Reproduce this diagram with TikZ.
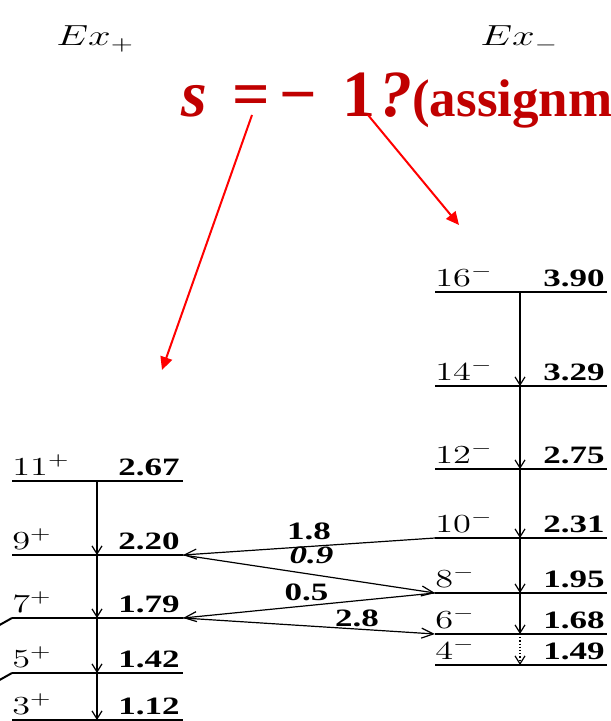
\RequirePackage{fix-cm}
\documentclass[tikz,border=0pt]{standalone}
\usepackage{fontspec}
\usetikzlibrary{arrows.meta, positioning}
\newfontfamily\numfont{Liberation Serif}
\definecolor{darkred}{RGB}{192,0,0}
\definecolor{brightred}{RGB}{255,0,0}
\newcommand{\wider}[1]{\scalebox{1.4}[1]{#1}}

\begin{document}
\begin{tikzpicture}[
  x=0.5pt, y=-0.5pt,
  level/.style={line width=1pt},
  cascade/.style={line width=0.6pt, -{Straight Barb[length=4pt,width=5pt]}},
  gamma/.style={line width=0.6pt, -{Straight Barb[length=6pt,width=5pt]}},
  spinlab/.style={inner sep=0pt, font=\fontsize{13}{13}\selectfont},
  enlab/.style={inner sep=0pt, font=\fontsize{12.5}{12.5}\selectfont\numfont\bfseries},
  translab/.style={inner sep=1pt, font=\fontsize{12.5}{12.5}\selectfont\numfont\bfseries},
  bandlab/.style={inner sep=0pt, font=\fontsize{14.5}{14.5}\selectfont},
  pointer/.style={brightred, line width=1pt, -{Triangle[length=6.5pt,width=6pt]}}
  ]
  \useasboundingbox (0,0) rectangle (610,721);

  % band headers
  \node[bandlab, anchor=base west] (explus) at (56,46) {\wider{$Ex_+$}};
  \node[bandlab, anchor=base west] (exminus) at (480,46) {\wider{$Ex_-$}};

  % question in red
  \node[anchor=base west, inner sep=0pt, text=darkred, font=\numfont\bfseries] (query) at (181,117)
    {\fontsize{33}{33}\selectfont\itshape s\upshape\hspace{12.5pt}=\hspace{5pt}−\hspace{12.5pt}1\hspace{2pt}\itshape ?\upshape\fontsize{26.5}{26.5}\selectfont(assignm};
  \coordinate (qL) at (252,115);
  \coordinate (qR) at (368,115);
  \coordinate (tipL) at (162,370);
  \coordinate (tipR) at (459,225);
  \draw[pointer] (qL) -- (tipL);
  \draw[pointer] (qR) -- (tipR);

  % positive parity levels
  \foreach \spin/\en/\yy in {11/2.67/481, 9/2.20/555, 7/1.79/618, 5/1.42/673, 3/1.12/720} {
    \draw[level] (12,\yy) coordinate (p\spin L) -- (183,\yy) coordinate (p\spin R);
    \coordinate (p\spin C) at (97,\yy);
    \node[spinlab, anchor=base west] (ps\spin) at (12,\yy-6) {\wider{$\spin^+$}};
    \node[enlab, anchor=base east] (pe\spin) at (180,\yy-6) {\wider{\en}};
  }
  % negative parity levels
  \foreach \spin/\en/\yy in {16/3.90/292, 14/3.29/386, 12/2.75/469, 10/2.31/538, 8/1.95/593, 6/1.68/634, 4/1.49/665} {
    \draw[level] (435,\yy) coordinate (m\spin L) -- (607,\yy) coordinate (m\spin R);
    \coordinate (m\spin C) at (520,\yy);
    \node[spinlab, anchor=base west] (ms\spin) at (435,\yy-6) {\wider{$\spin^-$}};
    \node[enlab, anchor=base east] (me\spin) at (605,\yy-6) {\wider{\en}};
  }
  \coordinate (out7) at (-4,627);
  \coordinate (out5) at (-4,682);
  \draw[level] (p7L) -- (out7);
  \draw[level] (p5L) -- (out5);

  % cascades
  \draw[cascade] (p11C) -- (p9C);
  \draw[cascade] (p9C) -- (p7C);
  \draw[cascade] (p7C) -- (p5C);
  \draw[cascade] (p5C) -- (p3C);
  \draw[cascade] (m16C) -- (m14C);
  \draw[cascade] (m14C) -- (m12C);
  \draw[cascade] (m12C) -- (m10C);
  \draw[cascade] (m10C) -- (m8C);
  \draw[cascade] (m8C) -- (m6C);
  \draw[cascade, densely dotted] (m6C) -- (m4C);

  % interband transitions
  \draw[gamma] (m10L) -- node[translab, pos=.5, above=2pt] {\wider{1.8}} (p9R);
  \draw[gamma] (p9R) -- node[translab, pos=.51, above=4pt] {\wider{\itshape 0.9}} (m8L);
  \draw[gamma] (m8L) -- node[translab, pos=.51, above=1pt] {\wider{0.5}} (p7R);
  \draw[gamma] (p7R) -- node[translab, pos=.69, above=0pt] {\wider{2.8}} (m6L);
\end{tikzpicture}
\end{document}
